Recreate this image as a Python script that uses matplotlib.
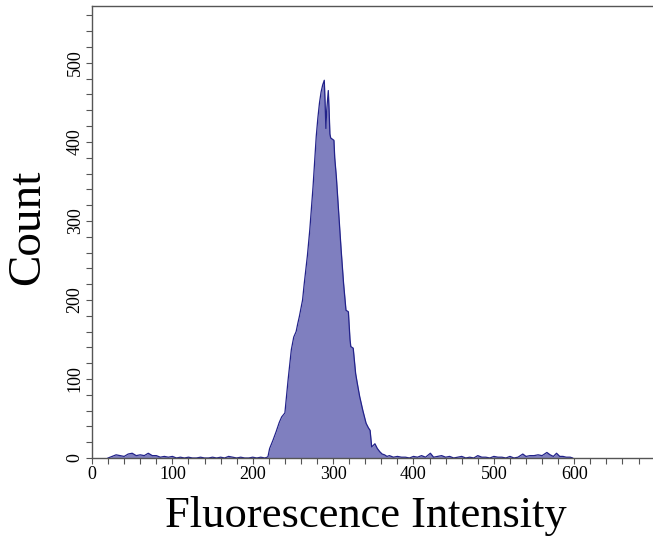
import numpy as np
import matplotlib
matplotlib.use('Agg')
import matplotlib.pyplot as plt
from matplotlib.ticker import MultipleLocator

x_izq = [20, 25, 30, 35, 40, 45, 50, 55, 60, 65, 70, 75, 80, 85, 90, 95, 100, 105, 110,
         115, 120, 125, 130, 135, 140, 145, 150, 155, 160, 165, 170, 175, 180, 185, 190,
         195, 200, 205, 210]
y_izq = [0, 2, 4, 3, 2, 5, 6, 3, 4, 3, 6, 3, 3, 1, 2, 1, 2, 0, 1,
         0, 1, 0, 0, 1, 0, 0, 1, 0, 1, 0, 2, 1, 0, 1, 0,
         0, 1, 0, 1]

x_pico = [215, 218, 219, 221, 225, 229, 233, 236, 240, 242, 244, 246, 248, 251, 254, 256,
          258, 262, 264, 266, 268, 271, 273, 275, 277, 279, 281, 283, 285, 287, 289, 290,
          291, 292, 294, 295, 296, 297, 301, 302, 304, 306, 308, 310, 313, 316, 319, 321,
          322, 325, 328, 330, 333, 337, 341, 344, 346, 348, 350, 352, 355, 358, 361, 364,
          367]
y_pico = [0, 1, 2, 12, 22, 33, 45, 52, 57, 78, 99, 118, 137, 153, 160, 170,
          179, 200, 220, 238, 256, 289, 316, 343, 375, 407, 430, 449, 463, 472, 478, 450,
          417, 440, 465, 440, 410, 405, 402, 380, 356, 325, 293, 263, 221, 187, 185, 150,
          141, 139, 107, 95, 78, 60, 44, 38, 35, 14, 16, 18, 12, 8, 5, 4,
          2]

x_der = [370, 375, 380, 385, 390, 395, 400, 405, 410, 415, 421, 425, 430, 435, 440, 445,
         450, 455, 460, 465, 470, 475, 480, 485, 490, 495, 500, 505, 510, 515, 520, 525,
         530, 536, 540, 545, 550, 555, 560, 566, 570, 574, 578, 582, 586, 590, 595, 598]
y_der = [3, 1, 2, 1, 1, 0, 2, 1, 3, 1, 6, 1, 2, 3, 1, 2,
         0, 1, 2, 0, 1, 0, 3, 1, 1, 0, 2, 1, 1, 0, 2, 0,
         1, 5, 2, 3, 3, 4, 3, 7, 4, 2, 6, 2, 2, 1, 1, 0]

intensidad = np.array(x_izq + x_pico + x_der)
cuenta = np.array(y_izq + y_pico + y_der)

plt.rcParams['font.family'] = ['Liberation Serif', 'DejaVu Serif']

fig = plt.figure(figsize=(6.53, 5.39), dpi=100)
ax = fig.add_axes([0.1409, 0.1503, 0.8591, 0.8386])

ax.fill_between(intensidad, cuenta, 0, color='#7f7fbf', linewidth=0)
ax.plot(intensidad, cuenta, color='#22228a', linewidth=0.9)

ax.set_xlim(0, 698)
ax.set_ylim(0, 572)

ax.xaxis.set_major_locator(MultipleLocator(100))
ax.xaxis.set_minor_locator(MultipleLocator(20))
ax.yaxis.set_major_locator(MultipleLocator(100))
ax.yaxis.set_minor_locator(MultipleLocator(20))

ax.spines['right'].set_visible(False)
for s in ['left', 'top', 'bottom']:
    ax.spines[s].set_color('#555555')
    ax.spines[s].set_linewidth(1.0)

ax.tick_params(which='both', direction='out', length=4, width=0.8, color='#555555',
               labelsize=13, pad=2)
for lab in ax.get_yticklabels():
    lab.set_rotation(90)
    lab.set_va('center')

ax.set_xlabel('Fluorescence Intensity', fontsize=32)
ax.set_ylabel('Count', fontsize=34)
ax.xaxis.set_label_coords(0.488, -0.085)
ax.yaxis.set_label_coords(-0.077, 0.511)

plt.savefig('out.png', dpi=100)
